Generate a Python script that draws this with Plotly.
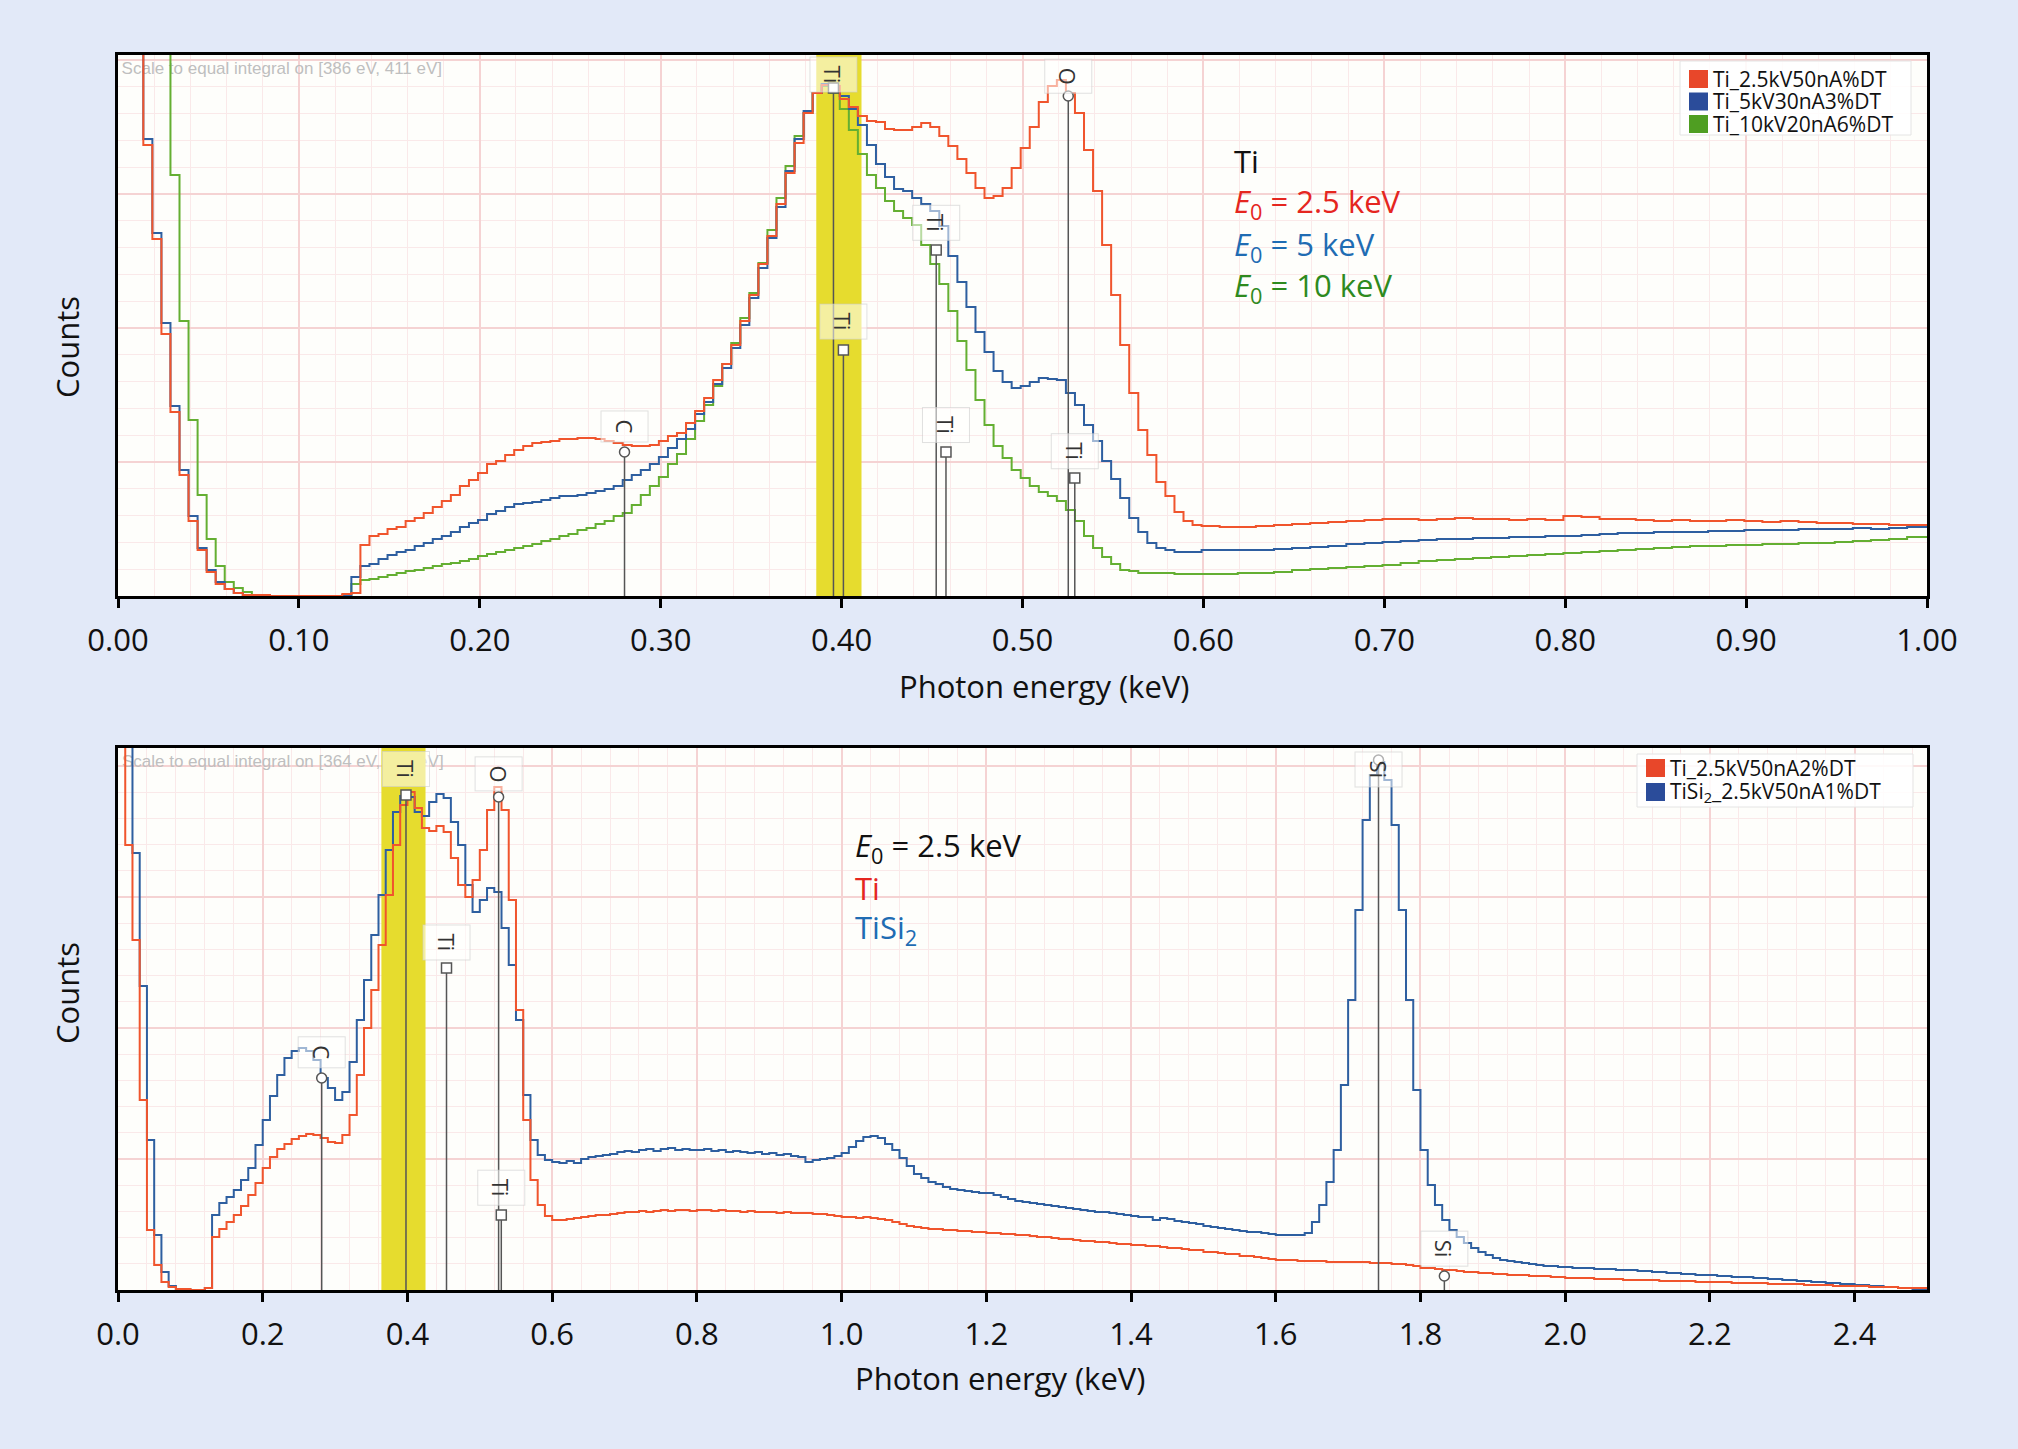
import plotly.graph_objects as go

W, H = 2018, 1449
FONT = "Open Sans"

# ======================= DATA =======================
# ---- Top panel: Ti at three beam energies (counts, arbitrary units) ----
# 5 eV channels starting at -0.001 keV (120 channels), then 10 eV channels from 0.599 keV (40 channels)
top_fine_edges = [round(-0.001 + 0.005 * k, 4) for k in range(120)]
top_tail_edges = [round(0.599 + 0.010 * j, 4) for j in range(40)]
top_end = 1.0

ti_2p5kv_fine = [
    900, 900, 900, 451, 357, 262, 184, 121, 75, 46,
    24, 12, 7, 3, 1, 1, 1, 0, 0, 0,
    0, 0, 0, 0, 0, 2, 3, 51, 60, 62,
    67, 69, 75, 78, 83, 89, 95, 101, 110, 116,
    123, 132, 135, 141, 146, 150, 153, 154, 155, 157,
    157, 158, 158, 157, 155, 153, 151, 150, 150, 151,
    155, 160, 163, 173, 185, 198, 216, 232, 251, 275,
    301, 332, 360, 392, 423, 453, 483, 503, 511, 510,
    497, 489, 480, 475, 474, 467, 466, 466, 469, 473,
    469, 460, 450, 437, 423, 408, 398, 400, 408, 428,
    448, 469, 494, 510, 516, 503, 483, 446, 405, 351,
    301, 251, 203, 166, 141, 114, 100, 84, 75, 71,
]
ti_2p5kv_tail = [
    70, 69, 69, 70, 71, 72, 73, 74, 75, 76,
    77, 77, 76, 77, 78, 77, 77, 76, 77, 76,
    80, 79, 77, 77, 76, 75, 76, 75, 75, 76,
    75, 74, 75, 74, 73, 73, 72, 72, 71, 71,
]

ti_5kv_fine = [
    900, 900, 900, 457, 363, 273, 190, 126, 80, 48,
    26, 14, 7, 3, 1, 1, 1, 0, 0, 0,
    0, 0, 0, 0, 0, 1, 19, 30, 32, 37,
    41, 44, 46, 50, 53, 57, 60, 64, 69, 73,
    76, 82, 85, 89, 92, 93, 94, 96, 98, 100,
    100, 101, 103, 105, 107, 110, 116, 121, 126, 132,
    139, 148, 157, 167, 182, 194, 212, 228, 248, 271,
    298, 328, 358, 389, 425, 457, 485, 503, 512, 504,
    500, 487, 471, 451, 432, 419, 407, 405, 398, 392,
    385, 370, 340, 314, 289, 264, 244, 225, 214, 208,
    210, 214, 218, 217, 216, 203, 191, 171, 155, 135,
    117, 98, 78, 64, 53, 48, 46, 44, 44, 44,
]
ti_5kv_tail = [
    46, 46, 46, 46, 47, 48, 49, 50, 52, 53,
    54, 55, 56, 57, 57, 58, 58, 59, 59, 60,
    60, 61, 62, 63, 63, 64, 64, 64, 65, 65,
    66, 66, 66, 67, 67, 67, 68, 67, 68, 69,
]

ti_10kv_fine = [
    900, 900, 900, 900, 900, 900, 421, 275, 176, 101,
    57, 30, 14, 8, 4, 1, 0, 0, 0, 0,
    0, 0, 0, 0, 0, 0, 12, 16, 17, 19,
    21, 23, 25, 26, 28, 30, 32, 33, 35, 37,
    40, 42, 44, 46, 48, 50, 52, 55, 57, 60,
    62, 66, 68, 72, 75, 80, 83, 91, 101, 110,
    119, 132, 142, 157, 175, 191, 210, 232, 253, 278,
    303, 333, 366, 398, 430, 460, 483, 503, 510, 503,
    487, 466, 442, 421, 408, 395, 385, 378, 371, 351,
    332, 312, 285, 255, 226, 196, 171, 150, 138, 126,
    118, 110, 104, 100, 95, 86, 75, 60, 48, 39,
    32, 26, 25, 23, 23, 23, 23, 22, 22, 22,
]
ti_10kv_tail = [
    22, 22, 23, 23, 24, 26, 27, 28, 29, 30,
    31, 33, 35, 36, 37, 38, 39, 40, 41, 42,
    43, 44, 45, 46, 47, 48, 49, 50, 50, 51,
    51, 52, 52, 53, 53, 54, 55, 56, 57, 59,
]

top_names = ["Ti_2.5kV50nA%DT", "Ti_5kV30nA3%DT", "Ti_10kV20nA6%DT"]
top_band = [0.386, 0.411]

# element markers, top panel
top_el_energy = [0.280, 0.3955, 0.401, 0.4523, 0.4577, 0.5253, 0.5289]
top_el_height = [144, 508, 246, 346, 144, 500, 118]
top_el_symbol = ["circle", "square", "square", "square", "square", "circle", "square"]
top_el_label = ["C", "Ti", "Ti", "Ti", "Ti", "O", "Ti"]
top_el_label_h = [170, 521, 274, 373, 171, 520, 145]

# ---- Bottom panel: Ti vs TiSi2 at 2.5 keV, 10 eV channels ----
bot_edges = [round(0.01 * b, 3) for b in range(250)]
bot_end = 2.5

ti_bot = [
    900, 445, 350, 190, 60, 25, 8, 3, 1, 1,
    0, 0, 2, 53, 61, 68, 75, 84, 95, 107,
    122, 133, 141, 146, 151, 154, 156, 155, 152, 148,
    147, 155, 175, 215, 262, 300, 345, 395, 445, 485,
    498, 482, 462, 459, 464, 458, 432, 405, 393, 410,
    440, 480, 503, 480, 390, 280, 170, 110, 85, 74,
    70, 70, 71, 72, 73, 74, 75, 75, 76, 77,
    78, 78, 79, 78, 79, 80, 79, 80, 80, 79,
    80, 80, 79, 80, 79, 79, 78, 79, 78, 78,
    78, 77, 78, 77, 77, 77, 76, 76, 75, 74,
    73, 73, 72, 73, 72, 71, 70, 68, 66, 64,
    63, 62, 61, 61, 60, 60, 59, 59, 58, 58,
    57, 57, 56, 56, 55, 55, 54, 53, 53, 52,
    51, 51, 50, 49, 49, 48, 48, 47, 46, 46,
    45, 45, 44, 44, 43, 42, 42, 41, 40, 40,
    38, 38, 37, 36, 36, 34, 34, 33, 32, 31,
    30, 30, 30, 29, 29, 29, 29, 28, 28, 28,
    28, 28, 28, 27, 27, 27, 26, 26, 25, 24,
    22, 22, 21, 20, 20, 19, 18, 18, 17, 17,
    16, 16, 15, 15, 15, 14, 14, 14, 13, 13,
    12, 12, 12, 12, 11, 11, 11, 11, 10, 10,
    10, 10, 10, 9, 9, 9, 9, 9, 8, 8,
    8, 8, 8, 7, 7, 7, 7, 7, 6, 6,
    6, 6, 6, 5, 5, 5, 5, 4, 4, 4,
    4, 4, 3, 3, 3, 3, 2, 2, 2, 2,
]
tisi2_bot = [
    900, 900, 437, 304, 150, 55, 18, 4, 1, 1,
    0, 0, 2, 75, 87, 93, 100, 110, 122, 145,
    170, 194, 215, 232, 239, 242, 239, 230, 212, 202,
    190, 198, 228, 270, 310, 355, 395, 440, 478, 494,
    493, 478, 474, 488, 496, 492, 468, 445, 405, 378,
    390, 402, 398, 362, 325, 270, 195, 150, 135, 130,
    128, 127, 129, 127, 131, 133, 134, 135, 136, 138,
    139, 138, 140, 141, 139, 141, 142, 140, 141, 140,
    140, 141, 139, 140, 138, 139, 138, 137, 138, 136,
    137, 135, 136, 134, 133, 128, 130, 131, 132, 134,
    137, 143, 149, 153, 154, 152, 146, 140, 132, 124,
    116, 112, 108, 106, 103, 101, 100, 99, 98, 97,
    97, 95, 93, 91, 89, 88, 87, 86, 85, 84,
    83, 82, 81, 80, 79, 78, 78, 77, 76, 75,
    74, 73, 73, 70, 72, 71, 69, 68, 67, 66,
    64, 63, 62, 61, 60, 59, 58, 58, 57, 56,
    55, 55, 55, 55, 57, 68, 85, 108, 140, 205,
    290, 380, 470, 515, 528, 510, 465, 380, 290, 200,
    140, 105, 85, 70, 60, 53, 47, 42, 38, 35,
    32, 30, 29, 28, 27, 26, 25, 24, 24, 23,
    23, 22, 22, 22, 21, 21, 21, 20, 20, 20,
    19, 19, 18, 18, 17, 17, 16, 16, 15, 15,
    15, 14, 14, 13, 13, 13, 12, 12, 11, 11,
    10, 10, 9, 9, 8, 8, 7, 7, 6, 6,
    5, 5, 4, 4, 3, 3, 2, 2, 1, 1,
]
bot_names = ["Ti_2.5kV50nA2%DT", "TiSi<sub>2</sub>_2.5kV50nA1%DT"]
bot_band = [0.364, 0.425]

bot_el_energy = [0.2815, 0.398, 0.454, 0.526, 0.5297, 1.742, 1.833]
bot_el_height = [212, 495, 322, 493, 75, 530, 14]
bot_el_symbol = ["circle", "square", "square", "circle", "square", "circle", "circle"]
bot_el_label = ["C", "Ti", "Ti", "O", "Ti", "Si", "Si"]
bot_el_label_h = [238, 521, 348, 516, 102, 521, 41]

TOP_YMAX = 541
BOT_YMAX = 542

# ======================= STYLE =======================
RED = "#F0552D"
BLUE = "#2E5FA0"
GREEN = "#64AF32"
LEG_RED = "#E8472A"
LEG_BLUE = "#2B4C9A"
LEG_GREEN = "#4F9E22"
BAND = "#E6DC2E"
ELC = "#555555"


def fx(p):
    return p / W


def fy(p):
    return 1 - p / H


def steps(edges, vals, end):
    n = min(len(edges), len(vals))
    return list(edges[:n]) + [end], list(vals[:n]) + [vals[n - 1]]


fig = go.Figure()

# ---------- top panel ----------
fig.add_trace(go.Scatter(
    x=[0.002], y=[526], mode="text", text=["Scale to equal integral on [386 eV, 411 eV]"],
    textposition="middle right", textfont=dict(family="Liberation Sans", size=17, color="#BFBFBF"),
    showlegend=False, hoverinfo="skip", cliponaxis=False, xaxis="x", yaxis="y"))
fig.add_trace(go.Scatter(
    x=[top_band[0], top_band[1], top_band[1], top_band[0], top_band[0]],
    y=[0, 0, TOP_YMAX, TOP_YMAX, 0], fill="toself", fillcolor=BAND, mode="lines",
    line=dict(width=0), showlegend=False, hoverinfo="skip", xaxis="x", yaxis="y"))

top_series = [
    (ti_10kv_fine + ti_10kv_tail, GREEN, top_names[2]),
    (ti_5kv_fine + ti_5kv_tail, BLUE, top_names[1]),
    (ti_2p5kv_fine + ti_2p5kv_tail, RED, top_names[0]),
]
edges_top = top_fine_edges + top_tail_edges
for vals, col, nm in top_series:
    xs, ys = steps(edges_top, vals, top_end)
    fig.add_trace(go.Scatter(x=xs, y=ys, mode="lines", line=dict(color=col, width=2, shape="hv"),
                             name=nm, showlegend=False, xaxis="x", yaxis="y"))

lx, ly = [], []
for e, h in zip(top_el_energy, top_el_height):
    lx += [e, e, None]
    ly += [0, h, None]
fig.add_trace(go.Scatter(x=lx, y=ly, mode="lines", line=dict(color=ELC, width=1.5),
                         showlegend=False, hoverinfo="skip", xaxis="x", yaxis="y"))
fig.add_trace(go.Scatter(x=top_el_energy, y=top_el_height, mode="markers",
                         marker=dict(symbol=top_el_symbol, size=10, color="white",
                                     line=dict(color=ELC, width=1.5)),
                         showlegend=False, hoverinfo="skip", xaxis="x", yaxis="y"))

# ---------- bottom panel ----------
fig.add_trace(go.Scatter(
    x=[0.0055], y=[527], mode="text", text=["Scale to equal integral on [364 eV, 425 eV]"],
    textposition="middle right", textfont=dict(family="Liberation Sans", size=17, color="#BFBFBF"),
    showlegend=False, hoverinfo="skip", cliponaxis=False, xaxis="x2", yaxis="y2"))
fig.add_trace(go.Scatter(
    x=[bot_band[0], bot_band[1], bot_band[1], bot_band[0], bot_band[0]],
    y=[0, 0, BOT_YMAX, BOT_YMAX, 0], fill="toself", fillcolor=BAND, mode="lines",
    line=dict(width=0), showlegend=False, hoverinfo="skip", xaxis="x2", yaxis="y2"))

for vals, col, nm in [(tisi2_bot, BLUE, bot_names[1]), (ti_bot, RED, bot_names[0])]:
    xs, ys = steps(bot_edges, vals, bot_end)
    fig.add_trace(go.Scatter(x=xs, y=ys, mode="lines", line=dict(color=col, width=2, shape="hv"),
                             name=nm, showlegend=False, xaxis="x2", yaxis="y2"))

lx, ly = [], []
for e, h in zip(bot_el_energy, bot_el_height):
    lx += [e, e, None]
    ly += [0, h, None]
fig.add_trace(go.Scatter(x=lx, y=ly, mode="lines", line=dict(color=ELC, width=1.5),
                         showlegend=False, hoverinfo="skip", xaxis="x2", yaxis="y2"))
fig.add_trace(go.Scatter(x=bot_el_energy, y=bot_el_height, mode="markers",
                         marker=dict(symbol=bot_el_symbol, size=10, color="white",
                                     line=dict(color=ELC, width=1.5)),
                         showlegend=False, hoverinfo="skip", xaxis="x2", yaxis="y2"))

# ======================= LAYOUT =======================
XDOM = [118 / W, 1927 / W]
TOP_DOM = [fy(596), fy(55)]
BOT_DOM = [fy(1290), fy(748)]

GRID_MAJ = "#F5D3D3"
GRID_MIN = "#FAE9E9"
common = dict(showline=True, linecolor="black", linewidth=3, mirror=True, zeroline=False,
              showgrid=True, gridcolor=GRID_MAJ, gridwidth=2, automargin=False)
xcommon = dict(ticks="outside", ticklen=9, tickwidth=3, tickcolor="black",
               tickfont=dict(family=FONT, size=31, color="#111"), ticklabelstandoff=6)

fig.update_layout(
    width=W, height=H, margin=dict(l=0, r=0, t=0, b=0, pad=0, autoexpand=False), autosize=False,
    paper_bgcolor="#E2E9F8", plot_bgcolor="#FEFEFB",
    font=dict(family=FONT, color="#111"), showlegend=False,
    xaxis=dict(domain=XDOM, anchor="y", range=[0, 1.0], tick0=0, dtick=0.1, tickformat=".2f",
               minor=dict(dtick=0.02, showgrid=True, gridcolor=GRID_MIN, gridwidth=1),
               **common, **xcommon),
    yaxis=dict(domain=TOP_DOM, anchor="x", range=[0, TOP_YMAX], tick0=0, dtick=134,
               showticklabels=False, ticks="",
               minor=dict(dtick=26.8, showgrid=True, gridcolor=GRID_MIN, gridwidth=1), **common),
    xaxis2=dict(domain=XDOM, anchor="y2", range=[0, 2.5], tick0=0, dtick=0.2, tickformat=".1f",
                minor=dict(dtick=0.04, showgrid=True, gridcolor=GRID_MIN, gridwidth=1),
                **common, **xcommon),
    yaxis2=dict(domain=BOT_DOM, anchor="x2", range=[0, BOT_YMAX], tick0=0, dtick=131,
                showticklabels=False, ticks="",
                minor=dict(dtick=26.2, showgrid=True, gridcolor=GRID_MIN, gridwidth=1), **common),
)

ann = []
shapes = []
# axis titles
for xt, yt in [(1044, 686), (1000, 1378)]:
    ann.append(dict(text="Photon energy (keV)", x=fx(xt), y=fy(yt), xref="paper", yref="paper",
                    showarrow=False, font=dict(family=FONT, size=31, color="#111"),
                    xanchor="center", yanchor="middle"))
for yt in [347, 993]:
    ann.append(dict(text="Counts", x=fx(67), y=fy(yt), xref="paper", yref="paper", textangle=-90,
                    showarrow=False, font=dict(family=FONT, size=31, color="#111"),
                    xanchor="center", yanchor="middle"))

# in-plot descriptions
top_text = [("Ti", "#111111", 161),
            ("<i>E</i><sub>0</sub> = 2.5 keV", "#E5261F", 203),
            ("<i>E</i><sub>0</sub> = 5 keV", "#1F6CB3", 246),
            ("<i>E</i><sub>0</sub> = 10 keV", "#2E8A1E", 287)]
for t, c, yy in top_text:
    ann.append(dict(text=t, x=fx(1232), y=fy(yy), xref="paper", yref="paper", showarrow=False,
                    font=dict(family=FONT, size=31, color=c), xanchor="left", yanchor="middle"))
bot_text = [("<i>E</i><sub>0</sub> = 2.5 keV", "#111111", 847),
            ("Ti", "#E5261F", 888),
            ("TiSi<sub>2</sub>", "#1F6CB3", 929)]
for t, c, yy in bot_text:
    ann.append(dict(text=t, x=fx(853), y=fy(yy), xref="paper", yref="paper", showarrow=False,
                    font=dict(family=FONT, size=31, color=c), xanchor="left", yanchor="middle"))

# element labels
lab_style = dict(showarrow=False, textangle=90, font=dict(family=FONT, size=22, color="#333333"),
                 bgcolor="rgba(255,255,255,0.55)", bordercolor="rgba(205,205,205,0.6)",
                 borderwidth=1, borderpad=8, xanchor="center", yanchor="middle")
for e, lbl, lh in zip(top_el_energy, top_el_label, top_el_label_h):
    ann.append(dict(text=lbl, x=e, y=lh, xref="x", yref="y", **lab_style))
for e, lbl, lh in zip(bot_el_energy, bot_el_label, bot_el_label_h):
    ann.append(dict(text=lbl, x=e, y=lh, xref="x2", yref="y2", **lab_style))


# legends (drawn as boxes with colour patches and labels)
def add_legend(box, patch_x, text_x, rows, names, colors):
    x0, y0, x1, y1 = box
    shapes.append(dict(type="rect", xref="paper", yref="paper", x0=fx(x0), x1=fx(x1),
                       y0=fy(y1), y1=fy(y0), fillcolor="rgba(255,255,255,0.85)",
                       line=dict(color="#E4E4E4", width=1), layer="above"))
    for yy, nm, col in zip(rows, names, colors):
        shapes.append(dict(type="rect", xref="paper", yref="paper",
                           x0=fx(patch_x), x1=fx(patch_x + 19), y0=fy(yy + 9), y1=fy(yy - 9),
                           fillcolor=col, line=dict(width=0), layer="above"))
        ann.append(dict(text=nm, x=fx(text_x), y=fy(yy), xref="paper", yref="paper",
                        showarrow=False, xanchor="left", yanchor="middle",
                        font=dict(family=FONT, size=21, color="#111")))


add_legend((1680, 61, 1911, 135), 1689, 1711, [79, 101.5, 124], top_names,
           [LEG_RED, LEG_BLUE, LEG_GREEN])
add_legend((1637, 754, 1913, 807), 1646, 1668, [768, 792], bot_names, [LEG_RED, LEG_BLUE])

fig.update_layout(annotations=ann, shapes=shapes)
fig.write_html("out.html")
